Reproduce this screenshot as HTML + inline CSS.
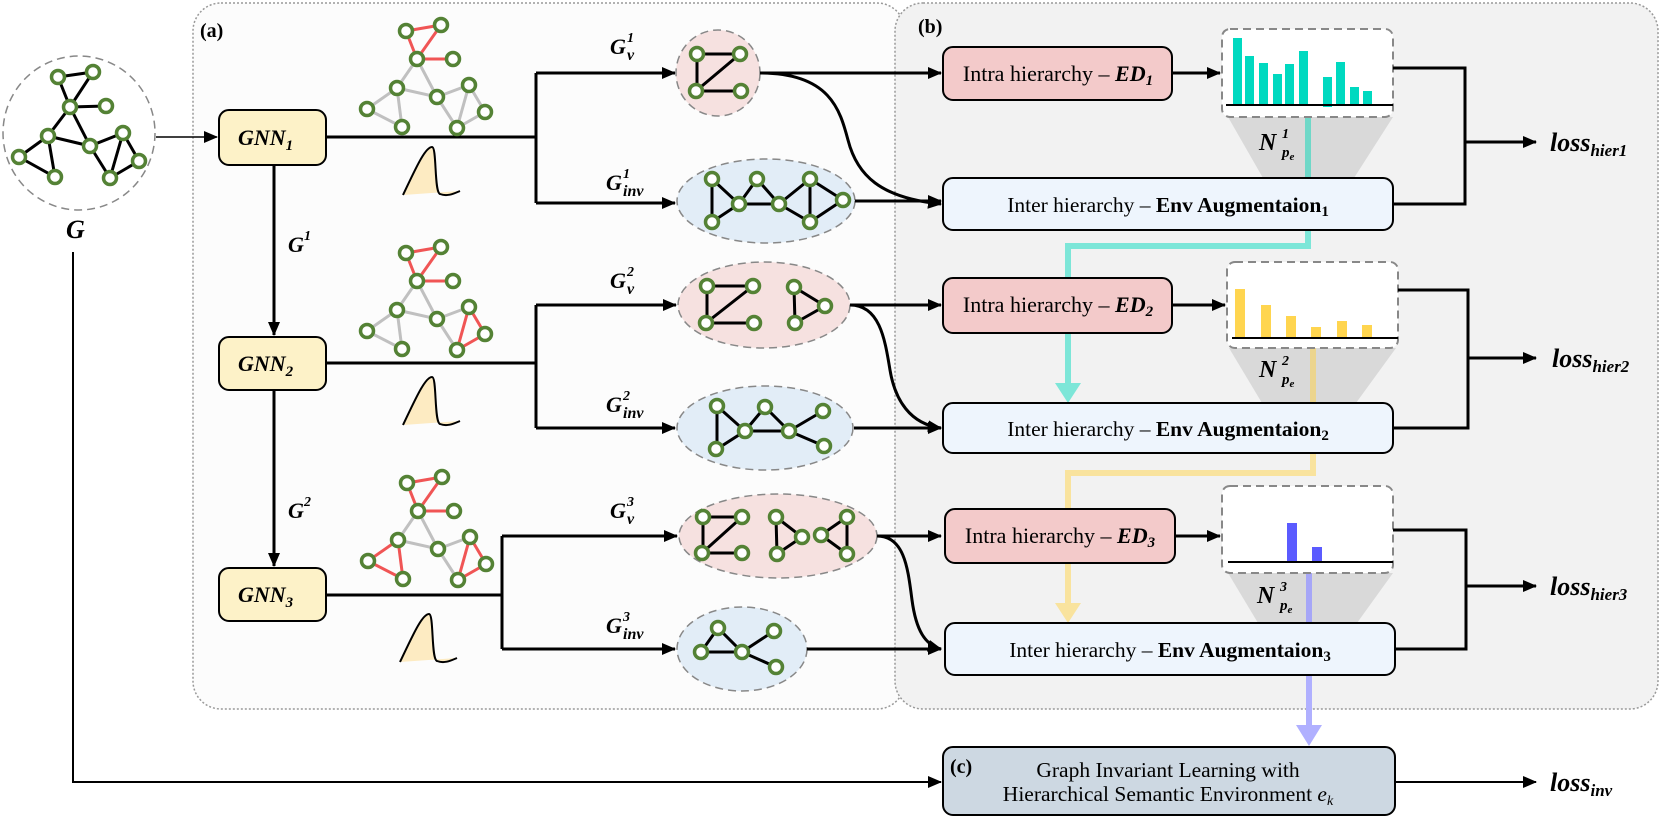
<!DOCTYPE html>
<html><head><meta charset="utf-8"><style>
html,body{margin:0;padding:0;background:#fff;}
svg{display:block;}
text{font-family:"Liberation Serif",serif;}
.m{font-style:italic;font-weight:bold;}
.n{fill:#fff;stroke:#548235;stroke-width:3.5;}
.k{stroke:#000;stroke-width:3;fill:none;}
.r{stroke:#f05555;stroke-width:3;fill:none;}
.g{stroke:#c0c0c0;stroke-width:3;fill:none;}
.w{stroke:#000;stroke-width:3;fill:none;}
</style></head><body>
<svg width="1661" height="817" viewBox="0 0 1661 817" xmlns="http://www.w3.org/2000/svg">
<defs>
<marker id="a" markerUnits="userSpaceOnUse" markerWidth="14" markerHeight="14" refX="13" refY="7" orient="auto"><path d="M0,1 L14,7 L0,13 Z" fill="#000"/></marker>
</defs>
<rect x="193" y="3" width="712" height="706" rx="28" fill="#fcfcfc" stroke="#999" stroke-width="1.5" stroke-dasharray="2 2"/>
<rect x="895" y="3" width="763" height="706" rx="28" fill="#f2f2f2" stroke="#999" stroke-width="1.5" stroke-dasharray="2 2"/>
<text x="200" y="37" font-size="20" font-weight="bold">(a)</text>
<text x="918" y="33" font-size="20" font-weight="bold">(b)</text>

<ellipse cx="79" cy="133" rx="76" ry="77" fill="#fff" stroke="#888" stroke-width="1.5" stroke-dasharray="8 5"/>
<g class="k">
<path d="M58,77 L93,72 L70,107 L58,77 M70,107 L106,106 M70,107 L48,136 M70,107 L90,146 M48,136 L19,157 L55,177 L48,136 M48,136 L90,146 L123,133 L139,161 L110,178 L123,133 M90,146 L110,178"/>
</g>
<g class="n"><circle cx="58" cy="77" r="6.5"/><circle cx="93" cy="72" r="6.5"/><circle cx="70" cy="107" r="6.5"/><circle cx="106" cy="106" r="6.5"/><circle cx="48" cy="136" r="6.5"/><circle cx="19" cy="157" r="6.5"/><circle cx="55" cy="177" r="6.5"/><circle cx="90" cy="146" r="6.5"/><circle cx="123" cy="133" r="6.5"/><circle cx="139" cy="161" r="6.5"/><circle cx="110" cy="178" r="6.5"/></g>
<text x="66" y="238" font-size="26" class="m">G</text>

<path d="M156,137 H217" stroke="#000" stroke-width="1.5" marker-end="url(#a)"/>
<path d="M73,252 V782 H941" stroke="#000" stroke-width="2" fill="none" marker-end="url(#a)"/>
<path d="M274,165 V335" class="w" marker-end="url(#a)"/>
<path d="M274,390 V566" class="w" marker-end="url(#a)"/>
<text x="288" y="252" font-size="22" class="m">G</text><text x="304" y="240" font-size="14" class="m">1</text>
<text x="288" y="518" font-size="22" class="m">G</text><text x="304" y="506" font-size="14" class="m">2</text>

<rect x="219" y="110" width="107" height="55" rx="10" fill="#fdf2c8" stroke="#000" stroke-width="2"/>
<rect x="219" y="337" width="107" height="53" rx="10" fill="#fdf2c8" stroke="#000" stroke-width="2"/>
<rect x="219" y="568" width="107" height="53" rx="10" fill="#fdf2c8" stroke="#000" stroke-width="2"/>
<text x="238" y="145" font-size="22" class="m">GNN<tspan font-size="15" dy="5">1</tspan></text>
<text x="238" y="371" font-size="22" class="m">GNN<tspan font-size="15" dy="5">2</tspan></text>
<text x="238" y="602" font-size="22" class="m">GNN<tspan font-size="15" dy="5">3</tspan></text>

<path d="M326,137 H536 M536,73 V203 M326,363 H536 M536,305 V428 M326,595 H502 M502,536 V649" class="w"/>
<path d="M536,73 H675" class="w" marker-end="url(#a)"/>
<path d="M536,203 H675" class="w" marker-end="url(#a)"/>
<path d="M536,305 H676" class="w" marker-end="url(#a)"/>
<path d="M536,428 H675" class="w" marker-end="url(#a)"/>
<path d="M502,536 H677" class="w" marker-end="url(#a)"/>
<path d="M502,649 H675" class="w" marker-end="url(#a)"/>

<g>
<path d="M403,195 C415,170 425,147 432,147 C437,147 434,192 440,194 C448,197 455,193 460,191 L403,195 Z" fill="#fdebc2"/>
<path d="M403,195 C415,170 425,147 432,147 C437,147 434,192 440,194 C448,197 455,193 460,191" fill="none" stroke="#000" stroke-width="2"/>
</g>
<g transform="translate(0,230)">
<path d="M403,195 C415,170 425,147 432,147 C437,147 434,192 440,194 C448,197 455,193 460,191 L403,195 Z" fill="#fdebc2"/>
<path d="M403,195 C415,170 425,147 432,147 C437,147 434,192 440,194 C448,197 455,193 460,191" fill="none" stroke="#000" stroke-width="2"/>
</g>
<g transform="translate(-3,467)">
<path d="M403,195 C415,170 425,147 432,147 C437,147 434,192 440,194 C448,197 455,193 460,191 L403,195 Z" fill="#fdebc2"/>
<path d="M403,195 C415,170 425,147 432,147 C437,147 434,192 440,194 C448,197 455,193 460,191" fill="none" stroke="#000" stroke-width="2"/>
</g>

<g>
<path class="g" d="M417,59 L397,88 M417,59 L437,97 M397,88 L367,109 L402,127 L397,88 M397,88 L437,97 L469,85 L485,112 L457,128 L469,85 M437,97 L457,128"/>
<path class="r" d="M406,31 L441,25 L417,59 L406,31 M417,59 L453,59"/>
<g class="n"><circle cx="406" cy="31" r="6.5"/><circle cx="441" cy="25" r="6.5"/><circle cx="417" cy="59" r="6.5"/><circle cx="453" cy="59" r="6.5"/><circle cx="397" cy="88" r="6.5"/><circle cx="367" cy="109" r="6.5"/><circle cx="402" cy="127" r="6.5"/><circle cx="437" cy="97" r="6.5"/><circle cx="469" cy="85" r="6.5"/><circle cx="485" cy="112" r="6.5"/><circle cx="457" cy="128" r="6.5"/></g>
</g>
<g transform="translate(0,222)">
<path class="g" d="M417,59 L397,88 M417,59 L437,97 M397,88 L367,109 L402,127 L397,88 M397,88 L437,97 L469,85 M437,97 L457,128"/>
<path class="r" d="M406,31 L441,25 L417,59 L406,31 M417,59 L453,59 M469,85 L485,112 L457,128 L469,85"/>
<g class="n"><circle cx="406" cy="31" r="6.5"/><circle cx="441" cy="25" r="6.5"/><circle cx="417" cy="59" r="6.5"/><circle cx="453" cy="59" r="6.5"/><circle cx="397" cy="88" r="6.5"/><circle cx="367" cy="109" r="6.5"/><circle cx="402" cy="127" r="6.5"/><circle cx="437" cy="97" r="6.5"/><circle cx="469" cy="85" r="6.5"/><circle cx="485" cy="112" r="6.5"/><circle cx="457" cy="128" r="6.5"/></g>
</g>
<g transform="translate(1,452)">
<path class="g" d="M417,59 L397,88 M417,59 L437,97 M397,88 L437,97 L469,85 M437,97 L457,128"/>
<path class="r" d="M406,31 L441,25 L417,59 L406,31 M417,59 L453,59 M469,85 L485,112 L457,128 L469,85 M397,88 L367,109 L402,127 L397,88"/>
<g class="n"><circle cx="406" cy="31" r="6.5"/><circle cx="441" cy="25" r="6.5"/><circle cx="417" cy="59" r="6.5"/><circle cx="453" cy="59" r="6.5"/><circle cx="397" cy="88" r="6.5"/><circle cx="367" cy="109" r="6.5"/><circle cx="402" cy="127" r="6.5"/><circle cx="437" cy="97" r="6.5"/><circle cx="469" cy="85" r="6.5"/><circle cx="485" cy="112" r="6.5"/><circle cx="457" cy="128" r="6.5"/></g>
</g>

<g font-size="22" class="m">
<text x="610" y="54">G</text><text x="627" y="42" font-size="14">1</text><text x="627" y="60" font-size="16">v</text>
<text x="606" y="190">G</text><text x="623" y="178" font-size="14">1</text><text x="623" y="196" font-size="16">inv</text>
<text x="610" y="288">G</text><text x="627" y="276" font-size="14">2</text><text x="627" y="294" font-size="16">v</text>
<text x="606" y="412">G</text><text x="623" y="400" font-size="14">2</text><text x="623" y="418" font-size="16">inv</text>
<text x="610" y="518">G</text><text x="627" y="506" font-size="14">3</text><text x="627" y="524" font-size="16">v</text>
<text x="606" y="633">G</text><text x="623" y="621" font-size="14">3</text><text x="623" y="639" font-size="16">inv</text>
</g>

<g stroke="#888" stroke-width="1.5" stroke-dasharray="8 5">
<ellipse cx="718" cy="73" rx="42" ry="43" fill="#f6e1e0"/>
<ellipse cx="766" cy="201" rx="89" ry="42" fill="#e2edf7"/>
<ellipse cx="764" cy="305" rx="86" ry="43" fill="#f6e1e0"/>
<ellipse cx="765" cy="428" rx="88" ry="42" fill="#e2edf7"/>
<ellipse cx="778" cy="536" rx="99" ry="42" fill="#f6e1e0"/>
<ellipse cx="742" cy="649" rx="65" ry="42" fill="#e2edf7"/>
</g>
<path class="k" d="M697,54 H740 L696,91 H741 M697,54 V91"/>
<path class="k" d="M712,179 V222 L739,204 L712,179 M739,204 L757,179 L779,204 L739,204 M779,204 L810,179 V222 L779,204 M810,179 L843,200 L810,222"/>
<path class="k" d="M707,286 H753 L706,323 H754 M707,286 V323 M794,287 L825,306 L795,323 Z"/>
<path class="k" d="M717,406 V449 L745,431 L717,406 M745,431 L765,407 L789,431 L745,431 M789,431 L823,411 M789,431 L824,446"/>
<path class="k" d="M703,517 H742 L702,553 H742 M703,517 V553 M776,517 L802,537 L777,554 Z M847,517 L821,535 L847,554 Z"/>
<path class="k" d="M718,628 L701,652 H742 L718,628 M742,652 L774,631 M742,652 L776,667"/>
<g class="n">
<circle cx="697" cy="54" r="6.5"/><circle cx="740" cy="54" r="6.5"/><circle cx="696" cy="91" r="6.5"/><circle cx="741" cy="91" r="6.5"/>
<circle cx="712" cy="179" r="6.5"/><circle cx="712" cy="222" r="6.5"/><circle cx="739" cy="204" r="6.5"/><circle cx="757" cy="179" r="6.5"/><circle cx="779" cy="204" r="6.5"/><circle cx="810" cy="179" r="6.5"/><circle cx="810" cy="222" r="6.5"/><circle cx="843" cy="200" r="6.5"/>
<circle cx="707" cy="286" r="6.5"/><circle cx="753" cy="286" r="6.5"/><circle cx="706" cy="323" r="6.5"/><circle cx="754" cy="323" r="6.5"/><circle cx="794" cy="287" r="6.5"/><circle cx="825" cy="306" r="6.5"/><circle cx="795" cy="323" r="6.5"/>
<circle cx="717" cy="406" r="6.5"/><circle cx="716" cy="449" r="6.5"/><circle cx="745" cy="431" r="6.5"/><circle cx="765" cy="407" r="6.5"/><circle cx="789" cy="431" r="6.5"/><circle cx="823" cy="411" r="6.5"/><circle cx="824" cy="446" r="6.5"/>
<circle cx="703" cy="517" r="6.5"/><circle cx="742" cy="517" r="6.5"/><circle cx="702" cy="553" r="6.5"/><circle cx="742" cy="553" r="6.5"/><circle cx="776" cy="517" r="6.5"/><circle cx="802" cy="537" r="6.5"/><circle cx="777" cy="554" r="6.5"/><circle cx="847" cy="517" r="6.5"/><circle cx="821" cy="535" r="6.5"/><circle cx="847" cy="554" r="6.5"/>
<circle cx="718" cy="628" r="6.5"/><circle cx="701" cy="652" r="6.5"/><circle cx="742" cy="652" r="6.5"/><circle cx="774" cy="631" r="6.5"/><circle cx="776" cy="667" r="6.5"/>
</g>

<path d="M760,73 H941" class="w" marker-end="url(#a)"/>
<path d="M760,73 C830,73 840,110 848,140 C857,175 880,198 941,204" class="w" marker-end="url(#a)"/>
<path d="M855,201 H941" class="w" marker-end="url(#a)"/>
<path d="M850,305 H941" class="w" marker-end="url(#a)"/>
<path d="M850,305 C880,305 885,340 890,370 C895,400 910,424 941,428" class="w" marker-end="url(#a)"/>
<path d="M854,428 H941" class="w" marker-end="url(#a)"/>
<path d="M877,536 H941" class="w" marker-end="url(#a)"/>
<path d="M877,536 C905,536 908,570 912,600 C916,630 925,645 941,649" class="w" marker-end="url(#a)"/>
<path d="M807,649 H941" class="w" marker-end="url(#a)"/>

<path d="M1228,117 H1393 L1354,178 H1263 Z" fill="#d9d9d9"/>
<path d="M1229,348 H1396 L1356,403 H1262 Z" fill="#d9d9d9"/>
<path d="M1228,573 H1393 L1357,623 H1258 Z" fill="#d9d9d9"/>

<path d="M1308,117 V178" stroke="#6fd8c8" stroke-width="6" fill="none"/>
<path d="M1308,230 V246 H1068 V385" stroke="#7de6d8" stroke-width="6" fill="none"/>
<path d="M1055,383 H1081 L1068,403 Z" fill="#7de6d8"/>
<path d="M1313,348 V403" stroke="#ecd58e" stroke-width="6" fill="none"/>
<path d="M1313,453 V473 H1068 V605" stroke="#f9e39e" stroke-width="6" fill="none"/>
<path d="M1055,603 H1081 L1068,623 Z" fill="#f9e39e"/>
<path d="M1309,573 V623" stroke="#a6a6f7" stroke-width="6" fill="none"/>
<path d="M1309,675 V727" stroke="#b0b0ff" stroke-width="6" fill="none"/>
<path d="M1296,725 H1322 L1309,746 Z" fill="#b0b0ff"/>

<rect x="943" y="47" width="229" height="53" rx="10" fill="#f3caca" stroke="#000" stroke-width="2"/>
<rect x="943" y="278" width="229" height="55" rx="10" fill="#f3caca" stroke="#000" stroke-width="2"/>
<rect x="945" y="509" width="230" height="54" rx="10" fill="#f3caca" stroke="#000" stroke-width="2"/>
<text x="1058" y="81" font-size="22" text-anchor="middle">Intra hierarchy – <tspan class="m">ED<tspan font-size="15" dy="4">1</tspan></tspan></text>
<text x="1058" y="312" font-size="22" text-anchor="middle">Intra hierarchy – <tspan class="m">ED<tspan font-size="15" dy="4">2</tspan></tspan></text>
<text x="1060" y="543" font-size="22" text-anchor="middle">Intra hierarchy – <tspan class="m">ED<tspan font-size="15" dy="4">3</tspan></tspan></text>

<rect x="943" y="178" width="450" height="52" rx="10" fill="#eef5fd" stroke="#000" stroke-width="2"/>
<rect x="943" y="403" width="450" height="50" rx="10" fill="#eef5fd" stroke="#000" stroke-width="2"/>
<rect x="945" y="623" width="450" height="52" rx="10" fill="#eef5fd" stroke="#000" stroke-width="2"/>
<text x="1168" y="212" font-size="21.5" text-anchor="middle">Inter hierarchy – <tspan font-weight="bold">Env Augmentaion<tspan font-size="15" dy="4">1</tspan></tspan></text>
<text x="1168" y="436" font-size="21.5" text-anchor="middle">Inter hierarchy – <tspan font-weight="bold">Env Augmentaion<tspan font-size="15" dy="4">2</tspan></tspan></text>
<text x="1170" y="657" font-size="21.5" text-anchor="middle">Inter hierarchy – <tspan font-weight="bold">Env Augmentaion<tspan font-size="15" dy="4">3</tspan></tspan></text>

<path d="M1172,73 H1220" class="w" marker-end="url(#a)"/>
<path d="M1172,305 H1225" class="w" marker-end="url(#a)"/>
<path d="M1175,536 H1220" class="w" marker-end="url(#a)"/>

<g stroke="#888" stroke-width="2" stroke-dasharray="8 5" fill="#fff">
<rect x="1222" y="29" width="171" height="88" rx="8"/>
<rect x="1227" y="262" width="171" height="86" rx="8"/>
<rect x="1222" y="486" width="171" height="87" rx="8"/>
</g>
<g fill="#00d9c0">
<rect x="1233" y="38" width="9" height="67"/><rect x="1245" y="56" width="9" height="49"/><rect x="1259" y="63" width="9" height="42"/><rect x="1273" y="74" width="9" height="31"/><rect x="1285" y="64" width="9" height="41"/><rect x="1299" y="51" width="9" height="54"/><rect x="1323" y="77" width="9" height="30"/><rect x="1336" y="62" width="9" height="43"/><rect x="1350" y="87" width="9" height="18"/><rect x="1363" y="91" width="9" height="14"/>
</g>
<path d="M1226,105 H1393" stroke="#000" stroke-width="2"/>
<g fill="#ffd54f">
<rect x="1235" y="289" width="10" height="49"/><rect x="1261" y="305" width="10" height="33"/><rect x="1286" y="316" width="10" height="22"/><rect x="1311" y="327" width="10" height="11"/><rect x="1337" y="321" width="10" height="17"/><rect x="1362" y="325" width="10" height="13"/>
</g>
<path d="M1232,338 H1398" stroke="#000" stroke-width="2"/>
<g fill="#5b5bff"><rect x="1287" y="523" width="10" height="39"/><rect x="1312" y="547" width="10" height="15"/></g>
<path d="M1228,562 H1393" stroke="#000" stroke-width="2"/>

<g class="m">
<text x="1259" y="150" font-size="24">N</text><text x="1282" y="138" font-size="14">1</text><text x="1282" y="157" font-size="15">p<tspan font-size="11" dy="3">e</tspan></text>
<text x="1259" y="377" font-size="24">N</text><text x="1282" y="365" font-size="14">2</text><text x="1282" y="384" font-size="15">p<tspan font-size="11" dy="3">e</tspan></text>
<text x="1257" y="603" font-size="24">N</text><text x="1280" y="591" font-size="14">3</text><text x="1280" y="610" font-size="15">p<tspan font-size="11" dy="3">e</tspan></text>
</g>

<path d="M1393,68 H1465 V204 H1393" class="w"/>
<path d="M1465,142 H1536" class="w" marker-end="url(#a)"/>
<path d="M1398,290 H1468 V428 H1393" class="w"/>
<path d="M1468,358 H1536" class="w" marker-end="url(#a)"/>
<path d="M1393,530 H1466 V649 H1395" class="w"/>
<path d="M1466,586 H1536" class="w" marker-end="url(#a)"/>
<path d="M1395,782 H1536" stroke="#000" stroke-width="2" fill="none" marker-end="url(#a)"/>
<g class="m" font-size="26">
<text x="1550" y="151">loss<tspan font-size="17" dy="5">hier1</tspan></text>
<text x="1552" y="367">loss<tspan font-size="17" dy="5">hier2</tspan></text>
<text x="1550" y="595">loss<tspan font-size="17" dy="5">hier3</tspan></text>
<text x="1550" y="791">loss<tspan font-size="17" dy="5">inv</tspan></text>
</g>

<rect x="943" y="747" width="452" height="68" rx="10" fill="#cdd8e2" stroke="#000" stroke-width="2"/>
<text x="950" y="773" font-size="20" font-weight="bold">(c)</text>
<text x="1168" y="777" font-size="21.5" text-anchor="middle">Graph Invariant Learning with</text>
<text x="1168" y="801" font-size="21.5" text-anchor="middle">Hierarchical Semantic Environment <tspan font-style="italic">e<tspan font-size="14" dy="4">k</tspan></tspan></text>
</svg>
</body></html>
